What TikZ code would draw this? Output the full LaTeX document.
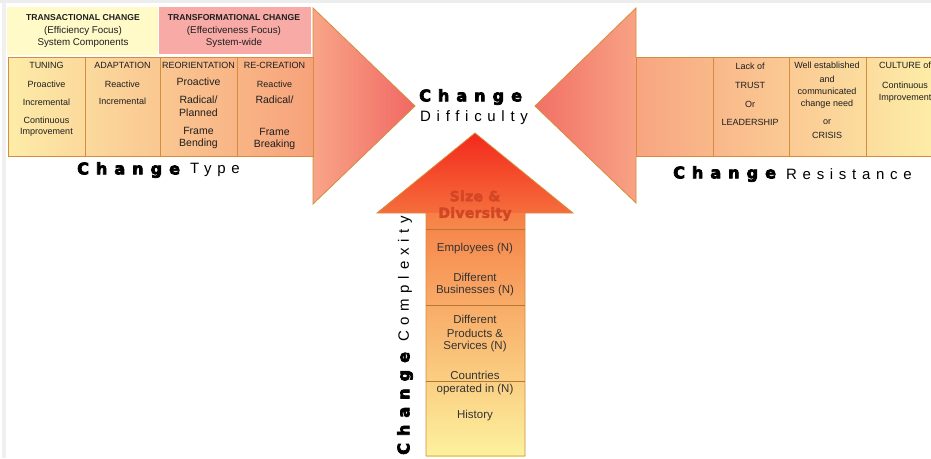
\documentclass[tikz,border=0pt]{standalone}
\usepackage{fontspec}
\setmainfont{Liberation Sans}
\newfontfamily\chgfont{DejaVu Sans}[LetterSpace=44]
\newfontfamily\spfont{Liberation Sans}[LetterSpace=38]
\newfontfamily\sdfont{DejaVu Sans}[LetterSpace=2]
\newcommand\heavytxt[2]{\special{pdf:literal direct 2 Tr #1 w}#2\special{pdf:literal direct 0 Tr}}
\definecolor{edge}{RGB}{214,140,60}
\definecolor{hdryel}{RGB}{255,250,200}
\definecolor{hdrpink}{RGB}{247,170,166}
\definecolor{sdred}{RGB}{210,70,38}
\definecolor{lshA}{RGB}{253,236,168}
\definecolor{lshB}{RGB}{251,206,146}
\definecolor{lshC}{RGB}{247,162,122}
\definecolor{lhdA}{RGB}{248,165,135}
\definecolor{lhdB}{RGB}{241,104,100}
\definecolor{rhdA}{RGB}{242,112,102}
\definecolor{rhdB}{RGB}{248,162,132}
\definecolor{rshA}{RGB}{248,165,128}
\definecolor{rshB}{RGB}{251,210,150}
\definecolor{rshC}{RGB}{253,240,168}
\definecolor{bhdA}{RGB}{244,40,28}
\definecolor{bhdB}{RGB}{245,110,60}
\definecolor{bshA}{RGB}{246,128,70}
\definecolor{bshB}{RGB}{250,196,112}
\definecolor{bshC}{RGB}{252,242,158}
\definecolor{txt}{RGB}{30,30,30}
\begin{document}
\begin{tikzpicture}[x=1pt,y=-1pt,
  tbl/.style={font=\fontsize{9}{10}\selectfont, inner sep=0pt, align=center, text=txt},
  tbig/.style={tbl, font=\fontsize{10.5}{12}\selectfont},
  hdrb/.style={tbl, font=\bfseries\fontsize{8.6}{10}\selectfont},
  hdrn/.style={tbl, font=\fontsize{9.8}{11}\selectfont},
  bot/.style={font=\fontsize{11.5}{13}\selectfont, inner sep=0pt, text=black!80},
  bigbold/.style={font=\chgfont\bfseries\fontsize{16}{18}\selectfont, inner sep=0pt, anchor=west, text=black},
  light/.style={font=\spfont\fontsize{15}{17}\selectfont, inner sep=0pt, anchor=west},
  sizediv/.style={font=\sdfont\bfseries\fontsize{14}{16}\selectfont, inner sep=0pt, text=sdred},
  ln/.style={draw=edge, line width=0.8pt}]
\useasboundingbox (0,0) rectangle (931,458);
\clip (0,0) rectangle (931,458);
\fill[white] (0,0) rectangle (931,458);
\fill[black!7] (0,0) rectangle (931,3);
\fill[black!6] (2,3) rectangle (6,458);

% ---------- left arrow (Change Type)
\shade[left color=lhdA, right color=lhdB] (313,8) -- (415,106) -- (313,204) -- cycle;
\draw[ln] (313,57) -- (313,8) -- (415,106) -- (313,204) -- (313,156);
\shade[left color=lshA, middle color=lshB, right color=lshC] (8,57) rectangle (313,156);
\draw[ln] (8,57) rectangle (313,156);
\foreach \xx in {85,160,237} \draw[ln] (\xx,57) -- (\xx,156);
\fill[hdryel] (7,7) rectangle (158,55);
\fill[hdrpink] (159,7) rectangle (311,54);

\node[hdrb] (h1a) at (83,18) {TRANSACTIONAL CHANGE};
\node[hdrn] (h1b) at (83,31) {(Efficiency Focus)};
\node[hdrn] (h1c) at (83,43) {System Components};
\node[hdrb] (h2a) at (234,18) {TRANSFORMATIONAL CHANGE};
\node[hdrn] (h2b) at (234,31) {(Effectiveness Focus)};
\node[hdrn] (h2c) at (234,43) {System-wide};

\node[tbl] (c1h) at (46.5,65) {TUNING};
\node[tbl] (c1a) at (46.5,84) {Proactive};
\node[tbl] (c1b) at (46.5,102) {Incremental};
\node[tbl] (c1c) at (46.5,120) {Continuous};
\node[tbl] (c1d) at (46.5,132) {Improvement};
\node[tbl] (c2h) at (122.5,65) {ADAPTATION};
\node[tbl] (c2a) at (122.5,84) {Reactive};
\node[tbl] (c2b) at (122.5,101) {Incremental};
\node[tbl] (c3h) at (198.5,65) {REORIENTATION};
\node[tbig] (c3a) at (198.5,82) {Proactive};
\node[tbig] (c3b) at (198.5,100) {Radical/};
\node[tbig] (c3c) at (198.5,113) {Planned};
\node[tbig] (c3d) at (198.5,131) {Frame};
\node[tbig] (c3e) at (198.5,144) {Bending};
\node[tbl] (c4h) at (274.5,65) {RE-CREATION};
\node[tbl] (c4a) at (274.5,84) {Reactive};
\node[tbig] (c4b) at (274.5,100) {Radical/};
\node[tbig] (c4c) at (274.5,132) {Frame};
\node[tbig] (c4d) at (274.5,145) {Breaking};

\node[bigbold] (ct1) at (77,170) {\heavytxt{0.7}{Change}};
\node[light] (ct2) at (190,170) {Type};

% ---------- right arrow (Change Resistance)
\shade[left color=rhdA, right color=rhdB] (636,8) -- (535,106) -- (636,203) -- cycle;
\draw[ln] (636,57) -- (636,8) -- (535,106) -- (636,203) -- (636,156);
\shade[left color=rshA, middle color=rshB, right color=rshC] (636,57) rectangle (945,156);
\draw[ln] (945,57) -- (636,57) -- (636,156) -- (945,156);
\foreach \xx in {713,789,866} \draw[ln] (\xx,57) -- (\xx,156);

\node[tbl] (r2a) at (750,66) {Lack of};
\node[tbl] (r2b) at (750,85) {TRUST};
\node[tbl] (r2c) at (750,104) {Or};
\node[tbl] (r2d) at (750,122) {LEADERSHIP};
\node[tbl] (r3a) at (827,65) {Well established};
\node[tbl] (r3b) at (827,79) {and};
\node[tbl] (r3c) at (827,91) {communicated};
\node[tbl] (r3d) at (827,104) {change need};
\node[tbl] (r3e) at (827,122) {or};
\node[tbl] (r3f) at (827,135) {CRISIS};
\node[tbl] (r4a) at (905,65) {CULTURE of};
\node[tbl] (r4b) at (905,85) {Continuous};
\node[tbl] (r4c) at (905,98) {Improvement};

\node[bigbold] (cr1) at (673,174) {\heavytxt{0.7}{Change}};
\node[light] (cr2) at (786,174) {Resistance};

% ---------- bottom arrow (Change Complexity)
\shade[top color=bhdA, bottom color=bhdB] (475,133) -- (573,213) -- (377,213) -- cycle;
\shade[top color=bshA, middle color=bshB, bottom color=bshC] (426,213) rectangle (525,456);
\draw[ln] (426,456) -- (426,213) -- (377,213) -- (475,133) -- (573,213) -- (525,213) -- (525,456) -- cycle;
\foreach \yy in {229,305,381} \draw[draw=edge!85!black, line width=0.6pt] (426,\yy) -- (525,\yy);

\node[sizediv] (sd1) at (475,196) {\heavytxt{0.4}{Size \&}};
\node[sizediv] (sd2) at (475,214) {\heavytxt{0.4}{Diversity}};
\node[bot] (b1) at (475,249) {Employees (N)};
\node[bot] (b2) at (475,277) {Different};
\node[bot] (b3) at (475,291) {Businesses (N)};
\node[bot] (b4) at (475,319) {Different};
\node[bot] (b5) at (475,333) {Products \&};
\node[bot] (b6) at (475,347) {Services (N)};
\node[bot] (b7) at (475,375) {Countries};
\node[bot] (b8) at (475,390) {operated in (N)};
\node[bot] (b9) at (475,416) {History};

\node[bigbold, rotate=90] (cc1) at (405,455) {\heavytxt{0.7}{Change}};
\node[light, rotate=90] (cc2) at (405,342) {Complexity};

% ---------- centre
\node[bigbold] (cd1) at (419,97) {\heavytxt{0.7}{Change}};
\node[light] (cd2) at (420,118) {Difficulty};
\end{tikzpicture}
\end{document}
